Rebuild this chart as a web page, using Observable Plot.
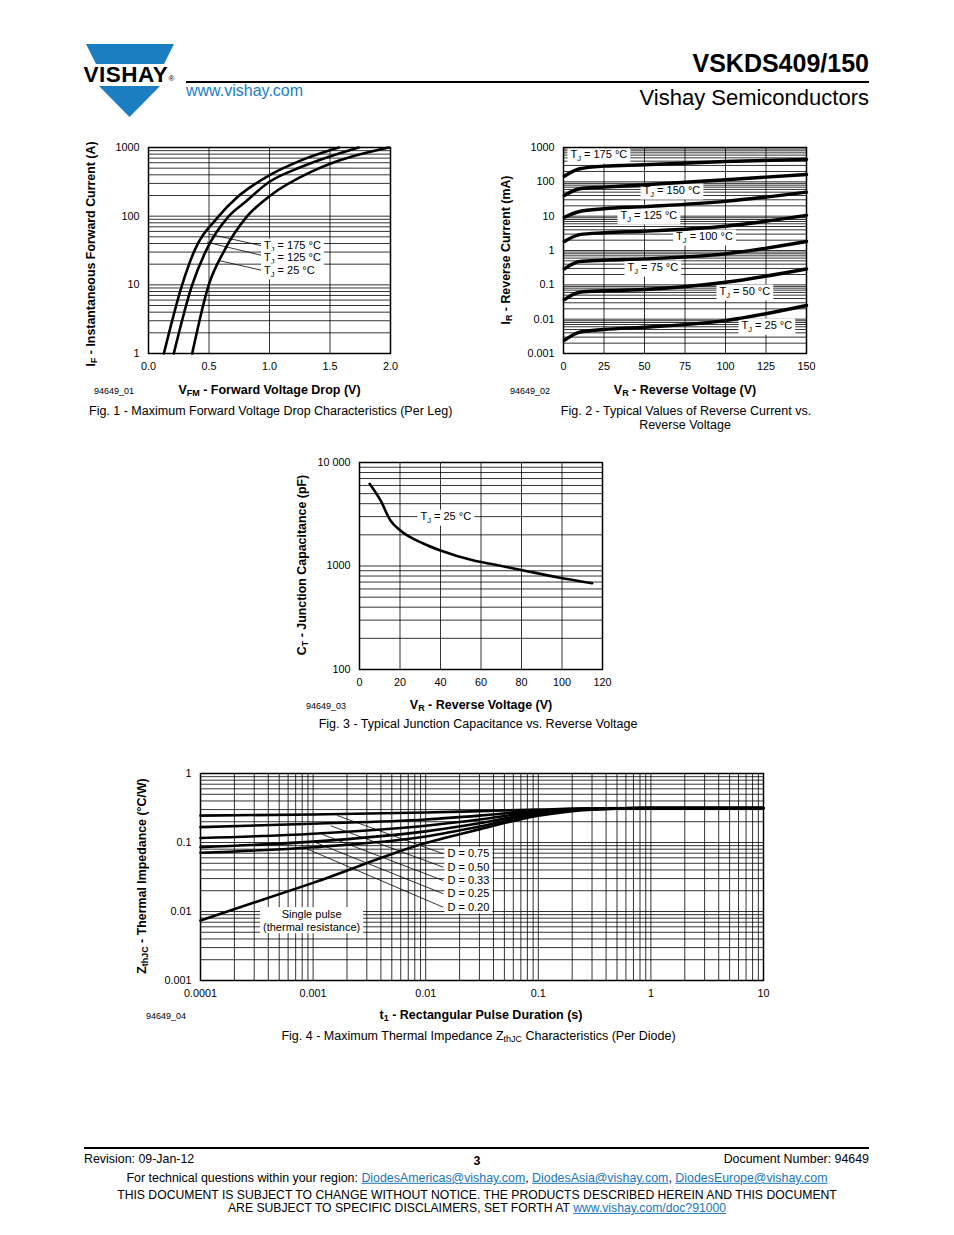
<!DOCTYPE html>
<html><head><meta charset="utf-8">
<script src="https://cdn.jsdelivr.net/npm/d3@7"></script>
<script src="https://cdn.jsdelivr.net/npm/@observablehq/plot@0.6"></script>
<style>
html,body{margin:0;padding:0;background:#fff;}
body{position:relative;width:954px;height:1235px;overflow:hidden;font-family:"Liberation Sans",Arial,Helvetica,sans-serif;color:#000;}
.t{position:absolute;white-space:nowrap;line-height:1;}
.c{transform:translate(-50%,-50%);}
.l{transform:translate(0,-50%);}
.r{transform:translate(-100%,-50%);}
.rot{transform:translate(-50%,-50%) rotate(-90deg);}
sub{font-size:0.72em;vertical-align:-0.3em;line-height:0;}
a{color:#1a75bc;text-decoration:underline;}
.cap{font-size:12.5px;}
.ax{font-size:12.5px;font-weight:bold;}
.yt{font-size:12.4px;font-weight:bold;}
.id{font-size:9px;}
.ft{font-size:12.4px;}
.ft2{font-size:12.2px;}
</style></head><body>
<script>
// ---------- Fig. 1 data ----------
const fig1VoltTicks = [0, 0.5, 1, 1.5, 2];
const fig1VoltTickLabels = ["0.0", "0.5", "1.0", "1.5", "2.0"];
const fig1CurrTicks = [1, 10, 100, 1000];
const fig1CurrTickLabels = ["1", "10", "100", "1000"];
const fig1V175 = [0.127, 0.278, 0.375, 0.581, 0.733, 0.994, 1.256, 1.573];
const fig1I175 = [1, 10, 30, 100, 188, 390, 645, 1000];
const fig1V125 = [0.209, 0.361, 0.47, 0.664, 0.80, 0.994, 1.256, 1.738];
const fig1I125 = [1, 10, 30, 100, 161, 312, 515, 1000];
const fig1V25 = [0.361, 0.498, 0.62, 0.816, 1.008, 1.366, 1.986];
const fig1I25 = [1, 10, 30, 100, 200, 461, 1000];
const fig1LabelText = ["TJ = 175 °C", "TJ = 125 °C", "TJ = 25 °C"];
const fig1LabelV = [0.955, 0.955, 0.955];
const fig1LabelI = [37.3, 24.7, 16.2];
const fig1LeadV1 = [0.498, 0.485, 0.581];
const fig1LeadI1 = [55, 41.7, 22.6];
const fig1LeadV2 = [0.93, 0.93, 0.94];
const fig1LeadI2 = [37.3, 27, 16.2];

// ---------- Fig. 2 data ----------
const fig2VoltTicks = [0, 25, 50, 75, 100, 125, 150];
const fig2CurrTicks = [0.001, 0.01, 0.1, 1, 10, 100, 1000];
const fig2CurrTickLabels = ["0.001", "0.01", "0.1", "1", "10", "100", "1000"];
const fig2V = [0.5, 10, 25, 50, 100, 150];
const fig2Temps = ["175", "150", "125", "100", "75", "50", "25"];
const fig2I175 = [146, 240, 286, 313, 392, 448];
const fig2I150 = [40, 63, 70, 82, 115, 164];
const fig2I125 = [9.3, 13.7, 16.4, 19, 27, 50];
const fig2I100 = [1.83, 2.9, 3.28, 3.65, 5.1, 10.5];
const fig2I75 = [0.293, 0.48, 0.52, 0.57, 0.80, 1.83];
const fig2I50 = [0.037, 0.061, 0.067, 0.073, 0.119, 0.29];
const fig2I25 = [0.0024, 0.0042, 0.005, 0.0058, 0.0091, 0.025];
const fig2LabelText = ["TJ = 175 °C", "TJ = 150 °C", "TJ = 125 °C", "TJ = 100 °C", "TJ = 75 °C", "TJ = 50 °C", "TJ = 25 °C"];
const fig2LabelV = [4.3, 49.4, 35.2, 69.5, 39.5, 96.3, 109.9];
const fig2LabelI = [627, 56, 10.5, 2.56, 0.32, 0.064, 0.00655];

// ---------- Fig. 3 data ----------
const fig3VoltTicks = [0, 20, 40, 60, 80, 100, 120];
const fig3CapTicks = [100, 1000, 10000];
const fig3CapTickLabels = ["100", "1000", "10 000"];
const fig3V = [5, 10.4, 15.3, 20.2, 31.8, 40, 56.4, 64.7, 81.1, 97.6, 114.9];
const fig3C = [6230, 4295, 2750, 2200, 1640, 1410, 1130, 1050, 905, 780, 682];
const fig3LabelText = ["TJ = 25 °C"];
const fig3LabelV = [30.1];
const fig3LabelC = [3000];

// ---------- Fig. 4 data ----------
const fig4TimeTicks = [0.0001, 0.001, 0.01, 0.1, 1, 10];
const fig4TimeTickLabels = ["0.0001", "0.001", "0.01", "0.1", "1", "10"];
const fig4ZTicks = [0.001, 0.01, 0.1, 1];
const fig4ZTickLabels = ["0.001", "0.01", "0.1", "1"];
const fig4T = [0.0001, 0.001, 0.01, 0.03, 0.1, 0.3, 1, 10];
const fig4Z075 = [0.245, 0.255, 0.272, 0.285, 0.300, 0.312, 0.315, 0.315];
const fig4Z050 = [0.167, 0.187, 0.215, 0.245, 0.290, 0.310, 0.315, 0.315];
const fig4Z033 = [0.116, 0.134, 0.175, 0.215, 0.280, 0.308, 0.315, 0.315];
const fig4Z025 = [0.0855, 0.103, 0.145, 0.190, 0.270, 0.306, 0.315, 0.315];
const fig4Z020 = [0.071, 0.0855, 0.122, 0.170, 0.260, 0.304, 0.315, 0.315];
const fig4ZSingle = [0.0074, 0.026, 0.098, 0.155, 0.245, 0.300, 0.315, 0.315];
const fig4LabelText = ["D = 0.75", "D = 0.50", "D = 0.33", "D = 0.25", "D = 0.20"];
const fig4LabelT = [0.0156, 0.0156, 0.0156, 0.0156, 0.0156];
const fig4LabelZ = [0.0686, 0.0439, 0.0281, 0.0181, 0.01154];
const fig4LeadT1 = [0.00164, 0.00143, 0.00121, 0.00105, 0.00082];
const fig4LeadZ1 = [0.246, 0.175, 0.131, 0.1, 0.085];
const fig4LeadT2 = [0.0143, 0.0143, 0.0143, 0.0143, 0.0143];
const fig4SingleText = ["Single pulse\n(thermal resistance)"];
const fig4SingleT = [0.00097];
const fig4SingleZ = [0.00753];

// ---------- helpers ----------
const FONT = '"Liberation Sans", Arial, Helvetica, sans-serif';
const NS = "http://www.w3.org/2000/svg";
const GRID = {stroke: "#000", strokeWidth: 0.8};
const logTicks = (domain) => d3.scaleLog().domain(domain).ticks();
const fmt = (ticks, labels) => { const m = new Map(ticks.map((t, i) => [t, labels[i]])); return d => m.get(d); };

function chart(frame, x, y, marks) {
  const [L, R, T, B] = frame;
  const ml = 60, mr = 20, mt = 10, mb = 30;
  const svg = Plot.plot({
    width: (R - L) + ml + mr, height: (B - T) + mt + mb,
    marginLeft: ml, marginRight: mr, marginTop: mt, marginBottom: mb,
    style: {fontFamily: FONT, fontSize: "10.8px", color: "#000", background: "transparent", overflow: "visible"},
    x: {...x, tickSize: 0, tickPadding: 9, label: null},
    y: {...y, tickSize: 0, tickPadding: 9, label: null},
    marks
  });
  svg.style.position = "absolute";
  svg.style.left = (L - ml) + "px";
  svg.style.top = (T - mt) + "px";
  svg.style.maxWidth = "none";
  document.body.append(svg);
  finish(svg);
  return svg;
}

function finish(svg) {
  const prefixes = ["TJ ", "D = ", "Single pulse"];
  svg.querySelectorAll("text").forEach(t => {
    const s = t.textContent;
    if (!prefixes.some(p => s.startsWith(p))) return;
    if (s.startsWith("TJ ")) {
      t.textContent = "T";
      const sub = document.createElementNS(NS, "tspan");
      sub.setAttribute("dy", "3"); sub.setAttribute("font-size", "7.5"); sub.textContent = "J";
      const rest = document.createElementNS(NS, "tspan");
      rest.setAttribute("dy", "-3"); rest.textContent = s.slice(2);
      t.append(sub, rest);
    }
    const b = t.getBBox();
    const r = document.createElementNS(NS, "rect");
    r.setAttribute("x", b.x - 3); r.setAttribute("y", b.y - 0.5);
    r.setAttribute("width", b.width + 6); r.setAttribute("height", b.height + 1);
    r.setAttribute("fill", "#fff"); r.setAttribute("stroke", "none");
    if (t.getAttribute("transform")) r.setAttribute("transform", t.getAttribute("transform"));
    t.parentNode.insertBefore(r, t);
  });
}

function txt(html, x, y, cls) {
  const d = document.createElement("div");
  d.className = "t " + cls;
  d.style.left = x + "px"; d.style.top = y + "px";
  d.innerHTML = html;
  document.body.append(d);
  return d;
}

const labelStyle = {fontSize: 11, fill: "#000", textAnchor: "start", fontFamily: FONT};

// ---------- Fig. 1 ----------
chart([148, 390, 147, 353],
  {type: "linear", domain: [0, 2], ticks: fig1VoltTicks, tickFormat: fmt(fig1VoltTicks, fig1VoltTickLabels)},
  {type: "log", domain: [1, 1000], ticks: fig1CurrTicks, tickFormat: fmt(fig1CurrTicks, fig1CurrTickLabels)},
  [
    Plot.ruleY(logTicks([1, 1000]), GRID),
    Plot.ruleX(fig1VoltTicks, GRID),
    Plot.link(fig1LeadV1, {x1: fig1LeadV1, y1: fig1LeadI1, x2: fig1LeadV2, y2: fig1LeadI2, stroke: "#000", strokeWidth: 0.8}),
    Plot.text(fig1LabelText, {x: fig1LabelV, y: fig1LabelI, text: d => d, ...labelStyle}),
    Plot.line(fig1V175, {x: fig1V175, y: fig1I175, stroke: "#000", strokeWidth: 2.6, curve: "monotone-x"}),
    Plot.line(fig1V125, {x: fig1V125, y: fig1I125, stroke: "#000", strokeWidth: 2.6, curve: "monotone-x"}),
    Plot.line(fig1V25, {x: fig1V25, y: fig1I25, stroke: "#000", strokeWidth: 2.6, curve: "monotone-x"}),
    Plot.frame({stroke: "#000", strokeWidth: 1.5})
  ]);

// ---------- Fig. 2 ----------
const fig2Series = [fig2I175, fig2I150, fig2I125, fig2I100, fig2I75, fig2I50, fig2I25];
chart([563, 806, 147, 353],
  {type: "linear", domain: [0, 150], ticks: fig2VoltTicks, tickFormat: d => String(d)},
  {type: "log", domain: [0.001, 1000], ticks: fig2CurrTicks, tickFormat: fmt(fig2CurrTicks, fig2CurrTickLabels)},
  [
    Plot.ruleY(logTicks([0.001, 1000]), GRID),
    Plot.ruleX(fig2VoltTicks, GRID),
    Plot.text(fig2LabelText, {x: fig2LabelV, y: fig2LabelI, text: d => d, ...labelStyle}),
    ...fig2Series.map(s => Plot.line(fig2V, {x: fig2V, y: s, stroke: "#000", strokeWidth: 3.4, curve: "monotone-x"})),
    Plot.frame({stroke: "#000", strokeWidth: 1.5})
  ]);

// ---------- Fig. 3 ----------
chart([359, 602, 462, 669],
  {type: "linear", domain: [0, 120], ticks: fig3VoltTicks, tickFormat: d => String(d)},
  {type: "log", domain: [100, 10000], ticks: fig3CapTicks, tickFormat: fmt(fig3CapTicks, fig3CapTickLabels)},
  [
    Plot.ruleY(logTicks([100, 10000]), GRID),
    Plot.ruleX(fig3VoltTicks, GRID),
    Plot.text(fig3LabelText, {x: fig3LabelV, y: fig3LabelC, text: d => d, ...labelStyle}),
    Plot.line(fig3V, {x: fig3V, y: fig3C, stroke: "#000", strokeWidth: 2.6, curve: "monotone-x"}),
    Plot.frame({stroke: "#000", strokeWidth: 1.5})
  ]);

// ---------- Fig. 4 ----------
const fig4Series = [fig4Z075, fig4Z050, fig4Z033, fig4Z025, fig4Z020, fig4ZSingle];
chart([200, 763, 773, 980],
  {type: "log", domain: [0.0001, 10], ticks: fig4TimeTicks, tickFormat: fmt(fig4TimeTicks, fig4TimeTickLabels)},
  {type: "log", domain: [0.001, 1], ticks: fig4ZTicks, tickFormat: fmt(fig4ZTicks, fig4ZTickLabels)},
  [
    Plot.ruleY(logTicks([0.001, 1]), GRID),
    Plot.ruleX(logTicks([0.0001, 10]), GRID),
    Plot.link(fig4LeadT1, {x1: fig4LeadT1, y1: fig4LeadZ1, x2: fig4LeadT2, y2: fig4LabelZ, stroke: "#000", strokeWidth: 0.8}),
    Plot.text(fig4LabelText, {x: fig4LabelT, y: fig4LabelZ, text: d => d, ...labelStyle}),
    Plot.text(fig4SingleText, {x: fig4SingleT, y: fig4SingleZ, text: d => d, ...labelStyle, textAnchor: "middle", lineHeight: 1.18}),
    ...fig4Series.map(s => Plot.line(fig4T, {x: fig4T, y: s, stroke: "#000", strokeWidth: 2.6, curve: "monotone-x"})),
    Plot.frame({stroke: "#000", strokeWidth: 1.5})
  ]);

// ---------- figure texts ----------
txt("94649_01", 94, 391, "l id");
txt("V<sub>FM</sub> - Forward Voltage Drop (V)", 269.5, 390, "c ax");
txt("Fig. 1 - Maximum Forward Voltage Drop Characteristics (Per Leg)", 89, 411, "l cap");
txt("I<sub>F</sub> - Instantaneous Forward Current (A)", 91, 254, "rot yt");

txt("94649_02", 510, 391, "l id");
txt("V<sub>R</sub> - Reverse Voltage (V)", 685, 390, "c ax");
txt("Fig. 2 - Typical Values of Reverse Current vs.", 686, 411, "c cap");
txt("Reverse Voltage", 685, 425, "c cap");
txt("I<sub>R</sub> - Reverse Current (mA)", 506, 250, "rot yt");

txt("94649_03", 306, 706, "l id");
txt("V<sub>R</sub> - Reverse Voltage (V)", 481, 705, "c ax");
txt("Fig. 3 - Typical Junction Capacitance vs. Reverse Voltage", 478, 724, "c cap");
txt("C<sub>T</sub> - Junction Capacitance (pF)", 302, 565, "rot yt");

txt("94649_04", 146, 1016, "l id");
txt("t<sub>1</sub> - Rectangular Pulse Duration (s)", 481, 1015, "c ax");
txt("Fig. 4 - Maximum Thermal Impedance Z<sub>thJC</sub> Characteristics (Per Diode)", 478.5, 1036, "c cap");
txt("Z<sub>thJC</sub> - Thermal Impedance (°C/W)", 142, 876, "rot yt");

// ---------- header ----------
const logo = document.createElementNS(NS, "svg");
logo.setAttribute("width", 954); logo.setAttribute("height", 1235);
logo.setAttribute("style", "position:absolute;left:0;top:0");
logo.innerHTML = `
  <polygon points="86,44 174,44 164,64 96,64" fill="#1b7dc2"/>
  <text x="83.5" y="82" font-family='${FONT}' font-weight="bold" font-size="22.5" letter-spacing="0.5" fill="#000">VISHAY</text>
  <text x="168.5" y="81" font-family='${FONT}' font-size="8" fill="#000">®</text>
  <polygon points="99,86 160,86 129.5,117" fill="#1b7dc2"/>
  <rect x="186" y="81" width="683" height="2" fill="#000"/>
  <rect x="84" y="1147" width="785" height="2" fill="#000"/>`;
document.body.append(logo);
txt("VSKDS409/150", 869, 63, "r").style.cssText += "font-size:25px;font-weight:bold;";
txt("Vishay Semiconductors", 869, 98, "r").style.cssText += "font-size:22px;";
txt("www.vishay.com", 186, 91, "l").style.cssText += "font-size:16px;color:#1b7dc2;";

// ---------- footer ----------
txt("Revision: 09-Jan-12", 84, 1159, "l ft");
txt("3", 477, 1161, "c ft").style.fontWeight = "bold";
txt("Document Number: 94649", 869, 1159, "r ft");
txt('For technical questions within your region: <a>DiodesAmericas@vishay.com</a>, <a>DiodesAsia@vishay.com</a>, <a>DiodesEurope@vishay.com</a>', 477, 1178, "c ft");
txt("THIS DOCUMENT IS SUBJECT TO CHANGE WITHOUT NOTICE. THE PRODUCTS DESCRIBED HEREIN AND THIS DOCUMENT", 477, 1195, "c ft2");
txt('ARE SUBJECT TO SPECIFIC DISCLAIMERS, SET FORTH AT <a>www.vishay.com/doc?91000</a>', 477, 1208, "c ft2");
</script>
</body></html>
